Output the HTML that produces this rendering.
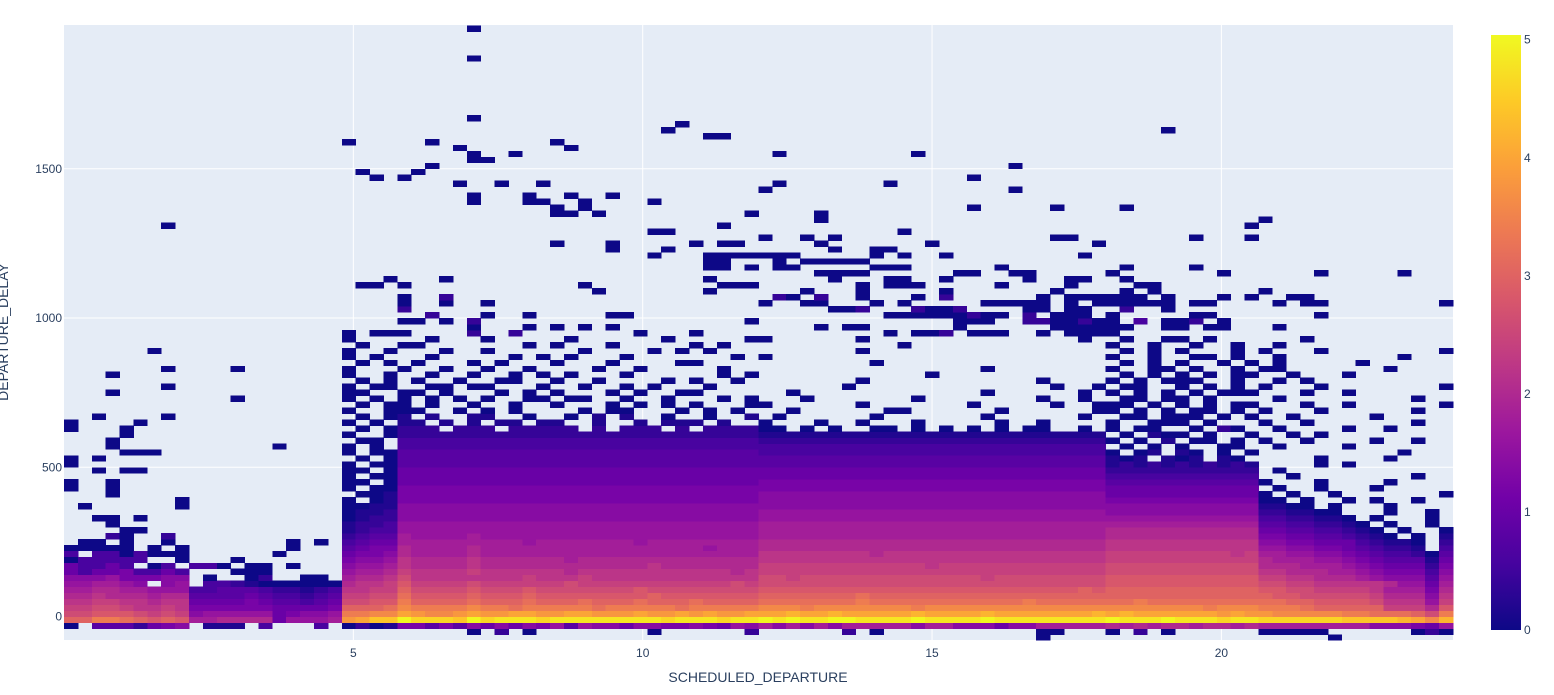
<!DOCTYPE html>
<html>
<head>
<meta charset="utf-8">
<style>
html,body{margin:0;padding:0;background:#fff;}
svg{display:block;font-family:"Liberation Sans",Arial,sans-serif;}
</style>
</head>
<body>
<svg id="chart" width="1554" height="695" viewBox="0 0 1554 695" xmlns="http://www.w3.org/2000/svg">
  <rect x="64" y="25" width="1389" height="615" fill="#e5ecf6"/>
  <g id="grid"></g>
  <g id="cells" shape-rendering="crispEdges"></g>
  <g id="xticks" font-size="12" fill="#2a3f5f" text-anchor="middle"></g>
  <g id="yticks" font-size="12" fill="#2a3f5f" text-anchor="end"></g>
  <text x="758" y="682" font-size="14" fill="#2a3f5f" text-anchor="middle">SCHEDULED_DEPARTURE</text>
  <text x="0" y="0" transform="translate(8,332) rotate(-90)" font-size="14" fill="#2a3f5f" text-anchor="middle">DEPARTURE_DELAY</text>
  <defs>
    <linearGradient id="plasma" x1="0" y1="1" x2="0" y2="0">
      <stop offset="0" stop-color="#0d0887"/><stop offset="0.1111" stop-color="#46039f"/>
      <stop offset="0.2222" stop-color="#7201a8"/><stop offset="0.3333" stop-color="#9c179e"/>
      <stop offset="0.4444" stop-color="#bd3786"/><stop offset="0.5556" stop-color="#d8576b"/>
      <stop offset="0.6667" stop-color="#ed7953"/><stop offset="0.7778" stop-color="#fb9f3a"/>
      <stop offset="0.8889" stop-color="#fdca26"/><stop offset="1" stop-color="#f0f921"/>
    </linearGradient>
  </defs>
  <rect x="1491" y="35" width="30" height="595" fill="url(#plasma)"/>
  <g id="cticks" font-size="12" fill="#2a3f5f"></g>
</svg>
<script>
// ---- data ----
const xTickValues = [5, 10, 15, 20];
const yTickValues = [0, 500, 1000, 1500];
const colorTickValues = [0, 1, 2, 3, 4, 5];
const xBinSize = 0.24;
const yBinStart = -80;
const yBinSize = 20;
// grid rows (row 0 = lowest delay bin), 100 x-bins each; '.' = empty, 'a'..'z' = log10 count 0..5 (step 0.2)
const gridRows = [
"..... ..... ..... ..... ..... ..... ..... ..... ..... ..... ..... ..... ..... ..... a.... ..... ..... ..... .a... .....",
"..... ..... ..... ..... ..... ....a .c.a. ..... ..a.. ....c ..... .c.a. ..... ..... aa... a.c.a ..... .aaaa a.... ..aca",
"a.eee cfgh. bbb.d ...d. acabg gegeh fhfhg ieihh fhhgg hgfih jhjhj hjjjj jhjjh hhfhh jjjjj kjkjk kjkkj kjjjj jjjjh hhgfi",
"pprrq popoj jkkkk fiiij tuwwz xxxwz xyyyx yyyyy yyyxy yyxyy zyzyy zzyyy yzyyy yzyyy yyyyy zyyyz yyyxy yxxxx xxwww wvusv",
"nnooo nmnmh iiiii fghhi rrssu tsstu ttuut tuutt tuttu tuttu uuvuu vuuuu uvuuu uvuuu uuuuv uvuuu uuutu ttsss ssrrq qqpnr",
"mmnnm llmlg ggggg ffffg pppqs rrrrs rrqrr rrrqr rrrrq rrrrr sssrs sssss srsss sssss sssss sssss ssrss srrrq ppppp mmmko",
"llmml lkllf fffgf eedef nnoor ppppq pppqp ppqpp pqppp qpppp qqqqq qqrqq qqqqq qqqqr qqqqq qqrqq qqqqq qqqpp oooon lllim",
"kklkk kjkke eeefe ddcde mmnnq oooop ooopo ooooo oopoo ooooo ppppp ppqpp ppppp ppppp ppppp ppppp ppppp ppoon nnnnm kkkhl",
"jjkkj jiiid deeed ccbcd llmmp nnnno nnnon nnnnn nonnn nnnnn ooooo ooooo ooooo ooooo ooopo ppppp ppppp poonn mmmml jjjgk",
"iijji h.hi. ddcba aaaaa kllmo mmmmn mmmmm mnmmm mmmmm mmmnm nnnnn nnnnn nnnnn nnnnn nnnnn ooooo ooooo onnmm lllll kiifj",
"hhhig gghh. a..ac ..aa. jkkln lllll lllml llmll lllll lllll nnmnn nnnnn nnnnn nmnnn nnnnn ooooo ooooo ommll kkkji hhhei",
"fdffg ddfd. ..aaa ..... ijjkm llllm lllll lklll lllll lllkl mmmmm mmmmm mmmmm mmmmm mmmmm nnnnn nnnnn nllkk kjjih gggdh",
"fddfd .ad.d da.aa .a... hiijl kkkkl kkkkk kkkkk kklkk kkkkk mmmmm mmmmm mmlmm mmmmm mmmmm nnnnn nnnnn nkkkj jjihg fffcg",
"adddd d..a. ..a.. ..... ghhil kkkkl kkkkk kjkkk kkkkk kkkkk lllll lllll lllll lllll lllll mmmmm mmmmm mkjjj iihgf eeebf",
"d.dda daaa. ..... a.... fgghk jjjjk jjjjj jjjjj jjjjj jjjjj lllll lllkl lllll lllll lllll mmmmm mmmml mjjii hhgfe ddcae",
"aaaaa .a.a. ..... .a... efggk jjjjk jjjjj jjjjj jjjjj jijjj kkkkk kkkkk kkkkk kkkkk kkkkk lllll lllll liihh ggfed ccb.d",
".aa.a ..a.. ..... .a.a. deffj jjjjj jjjij jjjjj jijjj jjjjj kkkkk kkkkk kkkkk kkkkk kkkkk lllll lllll lhhgg fffdc bba.c",
"...ca ..c.. ..... ..... cdeej iiiij iiiii iiiii iiiii iiiii jjjjj jjjjj jjjjj jjjjj jjjjj kkkkk kkkkk kggff eedcb a.a.b",
"....a a.... ..... ..... bcddi iiiii iiiii iiiii iiiii iiiii jjjjj jjjjj jjjjj jjjjj jjjjj kkkkk kkkkk kffee ddcba .a..a",
"...a. ..... ..... ..... bccdi iiiii iiiii iiiii iiiii iiiii jjjjj jjjjj jjjjj jjjjj jjjjj jjjjj jjjjj jeedd ccba. a..a.",
"..aa. a.... ..... ..... abcch hhhhh hhhhh hhhhh hhhhh hhhhh iiiii iiiii iiiii iiiii iiiii iiiii iiiii iddcc bba.a ...a.",
"..... ..... ..... ..... abbch hhhhh hhhhh hhhhh hhhhh hhhhh iiiii iiiii iiiii iiiii iiiii hhhhh hhhhh hccbb aa... a..a.",
".a... ...a. ..... ..... aabbh hhhhh hhhhh hhhhh hhhhh hhhhh hhhhh hhhhh hhhhh hhhhh hhhhh hhhhh hhhhh hbbaa .a... a....",
"..... ...a. ..... ..... a.abg ggggg ggggg ggggg ggggg ggggg hhhhh hhhhh hhhhh hhhhh hhhhh ggggg ggggg gaa.a ..a.a ..a..",
"...a. ..... ..... ..... .aabg ggggg ggggg ggggg ggggg ggggg hhhhh hhhhh hhhhh hhhhh hhhhh fffff fffff fa.a. .a... ....a",
"a..a. ..... ..... ..... a.aag ggggg ggggg ggggg ggggg ggggg ggggg ggggg ggggg ggggg ggggg fffff fffff f.a.. a...a .....",
"a..a. ..... ..... ..... aa.af fffff fffff fffff fffff fffff ggggg ggggg ggggg ggggg ggggg eeeee eeeee ea... a.... a....",
"..... ..... ..... ..... a.aaf fffff fffff fffff fffff fffff fffff fffff fffff fffff fffff ddddd ddddd d..a. ..... ..a..",
"..a.a a.... ..... ..... aa.af fffff fffff fffff fffff fffff fffff fffff fffff fffff fffff ccccc ccccc c.a.. ..... .....",
"a.... ..... ..... ..... a.aae eeeee eeeee eeeee eeeee eeeee eeeee eeeee eeeee eeeee eeeee bcbcb cbcbc b.... a.a.. .....",
"a.a.. ..... ..... ..... .a.ae eeeee eeeee eeeee eeeee eeeee eeeee eeeee eeeee eeeee eeeee bab.b ab.ba ..... a.... a....",
"....a aa... ..... ..... a.aae eeeee eeeee eeeee eeeee eeeee ddddd ddddd ddddd ddddd ddddd a.ab. ba.a. a.... ..... .a...",
"...a. ..... ..... a.... a.a.d ddddd ddddd ddddd ddddd ddddd ddddd ddddd ddddd ddddd ddddd .a.a. a..aa ..a.. ..a.. .....",
"...a. ..... ..... ..... .aa.d ddddd ddddd ddddd ddddd ddddd ccccc ccccc ccccc ccccc ccccc a.a.b .aa.a .a..a ....a ..a..",
"....a ..... ..... ..... a..ac ccccc ccccc ccccc ccccc ccccc bbbbb bbbbb bbbbb bbbbb bbbbb .a.ba a.a.. a..a. a.... .....",
"a...a ..... ..... ..... .a.ac cc.cc c.ccc cc.c. ccc.c .cccc aa.a. a..aa .a.a. a.a.a a..a. a.aa. .a.ca ..a.. ..a.. a....",
"a.... a.... ..... ..... a.a.b b.b.b .bb.b b..b. .b.bb b.b.. a...a ..a.. .a... ..a.. a.... a..aa a.a.. .a..a ..... ..a..",
"..a.. ..a.. ..... ..... .a.ab .b..b b..a. .a.b. b..a. .a..b .a... ...a. ..... .a... ...a. .aa.a aa.a. a..a. ....a .....",
"..... ..... ..... ..... a..aa a..a. a.a.. ..a.a a...a .a.a. ..a.. ....a a.... ..a.. ....a a.a.a .aa.a .a... a.... ..a..",
"..... ..... ..... ..... .a.aa .a..a ..a.. a...a .a.a. a...a a.... ..a.. ..... a.... .a..a aa.a. a.a.a a...a ..a.. ....a",
"..... ..... ..a.. ..... a.a.a .a.a. a..aa .aa.. a..a. ..a.a ...a. ..... .a... ..... a..a. .aa.a a.a.. ..a.. ..... ..a..",
"...a. ..... ..... ..... aa..a a.a.. .a.a. a...a .a..a a.... ..a.. ..... ..... .a... ...a. a.a.a .a.aa a...a ..a.. .....",
"..... ..a.. ..... ..... a.aa. .aa.a a...a ..a.. a.a.. .a... ..... .a... ..... ..... .a..a .aa.. a.a.a .a... a.... ....a",
"..... ..... ..... ..... .a.a. a..a. .aa.. a..a. ...a. a..a. ..... ..a.. ..... ..... a.... a.a.a aa..a ..a.a ..... .....",
"...a. ..... ..... ..... a..a. .a..a ..a.a .a... a.... ..a.a ..... ..... ..a.. ..... ..... .a.a. a.a.a a..a. ..a.. .....",
"..... ..a.. ..a.. ..... a...a ..a.. a..a. ...a. .a... ..a.. ..... ..... ..... .a... ..... a..aa .a..a .aa.. ..... a....",
"..... ..... ..... ..... .a.a. a...a .a... a...a ....a a.... ..... ...a. ..... ..... ..... .a.a. a..a. a.a.. ...a. .....",
"..... ..... ..... ..... a.a.. .a... ..a.a .a... a.... ...a. a.... ..... ..... ..... ..... a..a. .aa.a ..a.. ..... .a...",
"..... .a... ..... ..... a..a. ..a.. a.... ..a.. ..a.a .a... ..... ..a.. ..... ..... ..... .a.a. a...a .a... a.... ....a",
"..... ..... ..... ..... .a..a a.... ...a. a...a ..... a.a.. ..... ..... a.... ..... ..... a..a. .a..a ..a.. ..... .....",
"..... ..... ..... ..... a.... .a... a.... .a... ...a. ....a a.... ..a.. ..... ..... ...a. .a..a a.a.. ....a ..... ....."
];
// sparse high-delay bins (row >= 51)
const sparseCols = [20,22,23,24,29,32,41,45,59,61,62,63,65,66,67,70,72,73,74,75,
 29,33,35,37,39,54,56,57,64,71,72,73,74,75,76,79,80,82,83,87,
 24,25,27,29,49,64,65,66,69,70,71,72,73,74,75,77,79,80,81,83,
 26,30,33,39,40,59,60,61,62,63,64,65,66,67,69,71,72,73,75,81,82,90,
 24,55,56,57,61,62,63,64,69,70,72,73,76,79,
 24,27,30,50,53,54,58,60,66,67,68,69,70,72,74,75,76,77,78,79,81,82,87,89,90,99,
 24,27,51,52,54,57,61,63,70,72,73,74,75,76,77,79,83,85,88,89,
 38,46,53,57,63,71,76,78,86,
 21,22,24,37,47,48,49,57,59,60,61,67,72,77,78,
 23,27,46,55,59,60,63,69,72,73,76,
 54,55,56,57,64,65,68,69,75,83,90,96,
 46,47,49,51,52,58,59,60,67,76,81,
 46,47,51,53,54,55,56,57,
 42,46,47,48,49,50,51,52,58,60,63,73,
 39,43,55,58,59,
 35,39,45,47,48,54,62,74,
 50,53,55,71,72,81,85,
 42,43,60,
 7,47,85,
 54,86,
 35,36,38,49,54,
 35,37,65,71,76,
 29,33,34,37,42,
 29,33,36,39,
 50,68,
 28,31,34,51,59,
 22,24,65,
 21,25,
 26,68,
 29,30,
 29,32,51,61,
 28,36,
 20,26,35,
 46,47,
 43,79,
 44,
 29,29,29];
const sparseRows = [51,51,51,51,51,51,51,51,51,51,51,51,51,51,51,51,51,51,51,51,
 52,52,52,52,52,52,52,52,52,52,52,52,52,52,52,52,52,52,52,52,
 53,53,53,53,53,53,53,53,53,53,53,53,53,53,53,53,53,53,53,53,
 54,54,54,54,54,54,54,54,54,54,54,54,54,54,54,54,54,54,54,54,54,54,
 55,55,55,55,55,55,55,55,55,55,55,55,55,55,
 56,56,56,56,56,56,56,56,56,56,56,56,56,56,56,56,56,56,56,56,56,56,56,56,56,56,
 57,57,57,57,57,57,57,57,57,57,57,57,57,57,57,57,57,57,57,57,
 58,58,58,58,58,58,58,58,58,
 59,59,59,59,59,59,59,59,59,59,59,59,59,59,59,
 60,60,60,60,60,60,60,60,60,60,60,
 61,61,61,61,61,61,61,61,61,61,61,61,
 62,62,62,62,62,62,62,62,62,62,62,
 63,63,63,63,63,63,63,63,
 64,64,64,64,64,64,64,64,64,64,64,64,
 65,65,65,65,65,
 66,66,66,66,66,66,66,66,
 67,67,67,67,67,67,67,
 68,68,68,
 69,69,69,
 70,70,
 71,71,71,71,71,
 72,72,72,72,72,
 73,73,73,73,73,
 74,74,74,74,
 75,75,
 76,76,76,76,76,
 77,77,77,
 78,78,
 79,79,
 80,80,
 81,81,81,81,
 82,82,
 83,83,83,
 84,84,
 85,85,
 86,
 87,97,102];
const sparseLevels = "aaaacca" + "aaaacaaaaaaaaaaa" + "aaaaaaaaaaaaaaaaaaaa" + "caaaaccaacaadaacacaa" +
 "aaaaaaaacaacaaaaaaac" + "aaccaacaaaac" + "aaaaaaaaaaaaaaaaaaaaaaaaaa" + "aaccacaacaaaaaaaaaaa" +
 "aaaaaaaaaaaaaaaaaaaaaaa";
// ---- scales ----
const plotL = 64, plotR = 1453, plotT = 25, plotB = 640;
const pxPerHour = 57.87;
const pxPerMin = 0.2985;
const y0px = 616.5;
const cbTop = 35, cbBot = 630, cbMax = 5.04;
function xScale(h){ return plotL + h * pxPerHour; }
function yScale(v){ return y0px - v * pxPerMin; }
const plasma = [[0,[13,8,135]],[0.1111,[70,3,159]],[0.2222,[114,1,168]],[0.3333,[156,23,158]],[0.4444,[189,55,134]],[0.5556,[216,87,107]],[0.6667,[237,121,83]],[0.7778,[251,159,58]],[0.8889,[253,202,38]],[1,[240,249,33]]];
function colorFor(z){
  let t = Math.max(0, Math.min(1, z / cbMax));
  for (let i = 1; i < plasma.length; i++){
    if (t <= plasma[i][0]){
      const a = plasma[i-1], b = plasma[i];
      const f = (t - a[0]) / (b[0] - a[0]);
      const c = a[1].map((v, j) => Math.round(v + (b[1][j] - v) * f));
      return `rgb(${c[0]},${c[1]},${c[2]})`;
    }
  }
  return "rgb(240,249,33)";
}
const NS = "http://www.w3.org/2000/svg";
// gridlines
const grid = document.getElementById("grid");
xTickValues.forEach(v => {
  const l = document.createElementNS(NS, "line");
  
  
  l.setAttribute("x1", xScale(v)); l.setAttribute("x2", xScale(v));
  l.setAttribute("y1", plotT); l.setAttribute("y2", plotB);
  l.setAttribute("stroke", "#fff"); l.setAttribute("stroke-width", "1");
  grid.appendChild(l);
});
yTickValues.forEach(v => {
  const l = document.createElementNS(NS, "line");
  
  
  l.setAttribute("x1", plotL); l.setAttribute("x2", plotR);
  l.setAttribute("y1", yScale(v)); l.setAttribute("y2", yScale(v));
  l.setAttribute("stroke", "#fff"); l.setAttribute("stroke-width", "1");
  grid.appendChild(l);
});
// cells
const cells = document.getElementById("cells");
function addCell(col, row, ch){
  if (ch === "." || ch === undefined) return;
  const z = (ch.charCodeAt(0) - 97) * 0.2;
  const x1 = xScale(col * xBinSize), x2 = xScale((col + 1) * xBinSize);
  const vLo = yBinStart + row * yBinSize, vHi = vLo + yBinSize;
  const yTop = Math.max(plotT, yScale(vHi)), yBot = Math.min(plotB, yScale(vLo));
  if (yBot <= yTop) return;
  const r = document.createElementNS(NS, "rect");
  
  
  r.setAttribute("x", x1.toFixed(2));
  r.setAttribute("y", yTop.toFixed(2));
  r.setAttribute("width", (x2 - x1 + 0.4).toFixed(2));
  r.setAttribute("height", (yBot - yTop + 0.4).toFixed(2));
  r.setAttribute("fill", colorFor(z));
  cells.appendChild(r);
}
gridRows.forEach((s, row) => {
  const str = s.replace(/ /g, "");
  for (let c = 0; c < 100; c++) addCell(c, row, str[c]);
});
sparseCols.forEach((c, i) => addCell(c, sparseRows[i], sparseLevels[i] || "a"));
// ticks
const xt = document.getElementById("xticks");
xTickValues.forEach(v => {
  const t = document.createElementNS(NS, "text");
  
  
  t.setAttribute("x", xScale(v)); t.setAttribute("y", 657);
  t.textContent = v; xt.appendChild(t);
});
const yt = document.getElementById("yticks");
yTickValues.forEach(v => {
  const t = document.createElementNS(NS, "text");
  
  
  t.setAttribute("x", 62); t.setAttribute("y", yScale(v) + 4);
  t.textContent = v; yt.appendChild(t);
});
const ct = document.getElementById("cticks");
colorTickValues.forEach(v => {
  const t = document.createElementNS(NS, "text");
  
  
  t.setAttribute("x", 1524);
  t.setAttribute("y", cbBot - (v / cbMax) * (cbBot - cbTop) + 4);
  t.textContent = v; ct.appendChild(t);
});
</script>
</body>
</html>
